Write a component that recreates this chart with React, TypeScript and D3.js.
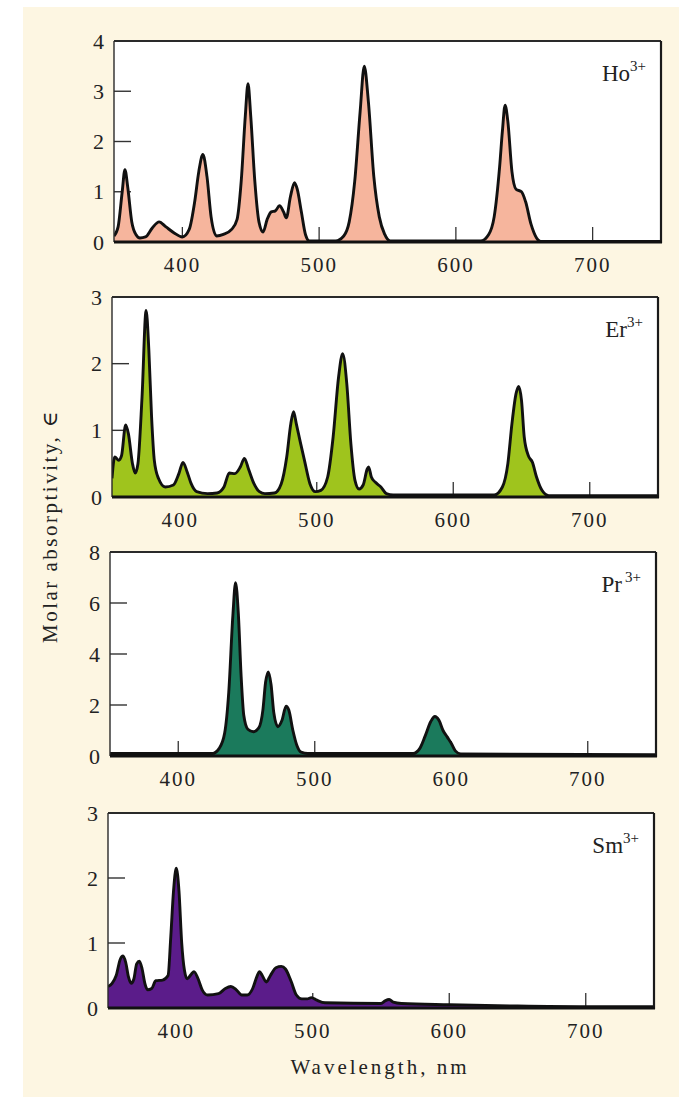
import * as d3 from "d3";

// absorption spectra of four lanthanide ions: [wavelength nm, molar absorptivity]
const hoSpectrum: [number, number][] = [
  [350, 0.12], [353, 0.3], [356, 1.0], [358, 1.44], [360, 1.1], [363, 0.4], [366, 0.15], [369, 0.08],
  [373, 0.1], [378, 0.28], [383, 0.4], [388, 0.3], [394, 0.18], [400, 0.1], [405, 0.25], [409, 0.8],
  [412, 1.4], [415, 1.74], [418, 1.3], [421, 0.5], [425, 0.12], [430, 0.15], [436, 0.25], [440, 0.45],
  [443, 1.2], [446, 2.5], [448, 3.15], [450, 2.5], [453, 1.2], [456, 0.4], [459, 0.2], [462, 0.45],
  [465, 0.6], [468, 0.62], [471, 0.72], [474, 0.6], [476, 0.48], [479, 0.9], [482, 1.18], [484, 1.05],
  [487, 0.6], [490, 0.15], [493, 0.02], [512, 0.02], [518, 0.12], [522, 0.4], [526, 1.2], [530, 2.6],
  [533, 3.5], [536, 2.8], [540, 1.3], [544, 0.5], [548, 0.15], [552, 0.02], [618, 0.02], [624, 0.15],
  [628, 0.5], [632, 1.5], [634, 2.2], [636, 2.72], [638, 2.4], [641, 1.4], [644, 1.05], [648, 1.0],
  [651, 0.8], [655, 0.35], [659, 0.08], [662, 0.01], [750, 0.01],
];

const erSpectrum: [number, number][] = [
  [350, 0.28], [352, 0.6], [355, 0.55], [357, 0.62], [360, 1.08], [362, 0.95], [365, 0.5], [367, 0.36],
  [369, 0.5], [372, 1.5], [375, 2.8], [377, 2.2], [379, 1.2], [381, 0.55], [384, 0.28], [389, 0.15],
  [395, 0.18], [399, 0.35], [402, 0.52], [405, 0.38], [408, 0.2], [412, 0.08], [420, 0.05], [427, 0.06],
  [432, 0.15], [436, 0.36], [440, 0.35], [444, 0.45], [447, 0.58], [450, 0.42], [454, 0.2], [458, 0.08],
  [462, 0.05], [469, 0.06], [474, 0.2], [478, 0.6], [481, 1.1], [483, 1.28], [485, 1.1], [488, 0.82],
  [491, 0.55], [495, 0.2], [499, 0.08], [503, 0.1], [508, 0.3], [512, 0.9], [516, 1.8], [519, 2.15],
  [522, 1.7], [525, 0.8], [528, 0.25], [531, 0.12], [534, 0.18], [537, 0.42], [538, 0.45], [540, 0.3],
  [543, 0.22], [547, 0.15], [551, 0.05], [556, 0.03], [630, 0.03], [636, 0.15], [640, 0.5], [643, 1.1],
  [646, 1.55], [648, 1.66], [650, 1.45], [652, 0.9], [655, 0.62], [658, 0.52], [661, 0.3], [665, 0.1],
  [670, 0.02], [750, 0.02],
];

const prSpectrum: [number, number][] = [
  [350, 0.1], [425, 0.1], [430, 0.3], [434, 0.9], [437, 2.5], [440, 5.5], [442, 6.8], [444, 5.6],
  [446, 3.2], [448, 1.6], [451, 1.05], [455, 0.95], [459, 1.1], [462, 1.8], [464, 2.9], [466, 3.3],
  [468, 2.8], [470, 1.7], [473, 1.15], [476, 1.4], [479, 1.95], [481, 1.8], [484, 1.0], [487, 0.4],
  [490, 0.15], [495, 0.1], [572, 0.1], [577, 0.3], [581, 0.8], [585, 1.35], [588, 1.55], [591, 1.4],
  [594, 1.0], [597, 0.75], [600, 0.5], [603, 0.2], [607, 0.08], [750, 0.05],
];

const smSpectrum: [number, number][] = [
  [350, 0.33], [353, 0.38], [356, 0.5], [359, 0.75], [361, 0.8], [363, 0.7], [365, 0.48], [367, 0.38],
  [369, 0.45], [371, 0.68], [373, 0.72], [375, 0.6], [377, 0.38], [379, 0.28], [382, 0.3], [385, 0.42],
  [390, 0.43], [394, 0.5], [396, 1.1], [398, 1.8], [400, 2.15], [402, 1.8], [404, 1.0], [406, 0.58],
  [408, 0.45], [411, 0.52], [413, 0.56], [416, 0.45], [419, 0.28], [423, 0.2], [431, 0.22], [436, 0.3],
  [440, 0.33], [444, 0.28], [448, 0.2], [452, 0.2], [456, 0.3], [459, 0.48], [461, 0.56], [463, 0.5],
  [466, 0.4], [469, 0.5], [473, 0.62], [477, 0.64], [480, 0.6], [484, 0.42], [488, 0.2], [492, 0.14],
  [496, 0.14], [499, 0.16], [503, 0.12], [509, 0.08], [550, 0.07], [553, 0.11], [556, 0.13], [559, 0.09],
  [565, 0.07], [600, 0.05], [650, 0.03], [700, 0.02], [750, 0.02],
];

const spectra = [hoSpectrum, erSpectrum, prSpectrum, smSpectrum];
const ions = ["Ho", "Er", "Pr", "Sm"];
const xDomain = [350, 750];
const xTicks = [400, 500, 600, 700];
const yTickLists = [
  [0, 1, 2, 3, 4],
  [0, 1, 2, 3],
  [0, 2, 4, 6, 8],
  [0, 1, 2, 3],
];

// frames drift a little to the left going down, like the scan
const frames = [
  { left: 114, right: 661, top: 41, bottom: 242 },
  { left: 112, right: 658, top: 297, bottom: 497 },
  { left: 110, right: 656, top: 552, bottom: 756 },
  { left: 108, right: 654, top: 813, bottom: 1008 },
];
const fills = ["#f6b59d", "#9fc41d", "#1b7a5c", "#5b1c8a"];

const W = 679;
const H = 1097;
const serif = "'Liberation Serif', 'DejaVu Serif', serif";
const ink = "#222";

function Panel({ i }: { i: number }) {
  const f = frames[i];
  const ticks = yTickLists[i];
  const yMax = ticks[ticks.length - 1];
  const x = d3.scaleLinear().domain(xDomain).range([f.left, f.right]);
  const y = d3.scaleLinear().domain([0, yMax]).range([f.bottom, f.top]);

  const area = d3
    .area<[number, number]>()
    .x((d) => x(d[0]))
    .y0(y(0))
    .y1((d) => y(d[1]))
    .curve(d3.curveMonotoneX);
  const line = d3
    .line<[number, number]>()
    .x((d) => x(d[0]))
    .y((d) => y(d[1]))
    .curve(d3.curveMonotoneX);

  const clipId = `clip-${i}`;

  return (
    <g>
      <defs>
        <clipPath id={clipId}>
          <rect x={f.left} y={f.top} width={f.right - f.left} height={f.bottom - f.top} />
        </clipPath>
      </defs>
      <rect x={f.left} y={f.top} width={f.right - f.left} height={f.bottom - f.top} fill="#fff" />

      {/* inner ticks */}
      {ticks.slice(1, -1).map((t) => (
        <line key={"y" + t} x1={f.left} x2={f.left + 17} y1={y(t)} y2={y(t)} stroke="#333" strokeWidth={1.4} />
      ))}
      {xTicks.map((t) => (
        <line key={"x" + t} x1={x(t)} x2={x(t)} y1={f.bottom} y2={f.bottom - 15} stroke="#333" strokeWidth={1.3} />
      ))}

      <g clipPath={`url(#${clipId})`}>
        <path d={area(spectra[i]) ?? ""} fill={fills[i]} />
        <path d={line(spectra[i]) ?? ""} fill="none" stroke="#111" strokeWidth={2.9} strokeLinejoin="round" />
      </g>

      {/* frame: thin top/left, heavier bottom/right */}
      <line x1={f.left} x2={f.right} y1={f.top} y2={f.top} stroke="#2a2a2a" strokeWidth={1.8} />
      <line x1={f.left} x2={f.left} y1={f.top} y2={f.bottom} stroke="#2a2a2a" strokeWidth={1.4} />
      <line x1={f.right} x2={f.right} y1={f.top} y2={f.bottom + 1} stroke="#1a1a1a" strokeWidth={2.2} />
      <line x1={f.left} x2={f.right + 1} y1={f.bottom} y2={f.bottom} stroke="#111" strokeWidth={3.2} />

      {/* tick labels */}
      {ticks.map((t) => (
        <text
          key={"yl" + t}
          x={f.left - 10}
          y={y(t)}
          dy="0.35em"
          textAnchor="end"
          fontSize={22}
          fontFamily={serif}
          fill={ink}
        >
          {t}
        </text>
      ))}
      {xTicks.map((t) => (
        <text
          key={"xl" + t}
          x={x(t)}
          y={f.bottom + 23}
          dy="0.35em"
          textAnchor="middle"
          fontSize={21}
          letterSpacing={2}
          fontFamily={serif}
          fill={ink}
        >
          {t}
        </text>
      ))}

      <text
        x={f.right - 15}
        y={f.top + 40}
        textAnchor="end"
        fontSize={23}
        fontFamily={serif}
        fill={ink}
      >
        {ions[i]}
        <tspan fontSize={15} dy={-10} dx={i === 2 ? 3 : 0}>
          3+
        </tspan>
      </text>
    </g>
  );
}

export default function App() {
  return (
    <div style={{ position: "absolute", left: 0, top: 0 }}>
      <svg width={W} height={H} style={{ display: "block" }}>
        <rect x={0} y={0} width={W} height={H} fill="#fff" />
        <rect x={23} y={7} width={W - 23} height={H - 7} fill="#fdf6e2" />
        {ions.map((_, i) => (
          <Panel key={i} i={i} />
        ))}
        <text
          transform="translate(50,526) rotate(-90)"
          textAnchor="middle"
          dy="0.35em"
          fontSize={21}
          letterSpacing={2.5}
          fontFamily={serif}
          fill={ink}
        >
          Molar absorptivity, ∈
        </text>
        <text
          x={380}
          y={1067}
          dy="0.35em"
          textAnchor="middle"
          fontSize={21}
          letterSpacing={3}
          fontFamily={serif}
          fill={ink}
        >
          Wavelength, nm
        </text>
      </svg>
    </div>
  );
}
